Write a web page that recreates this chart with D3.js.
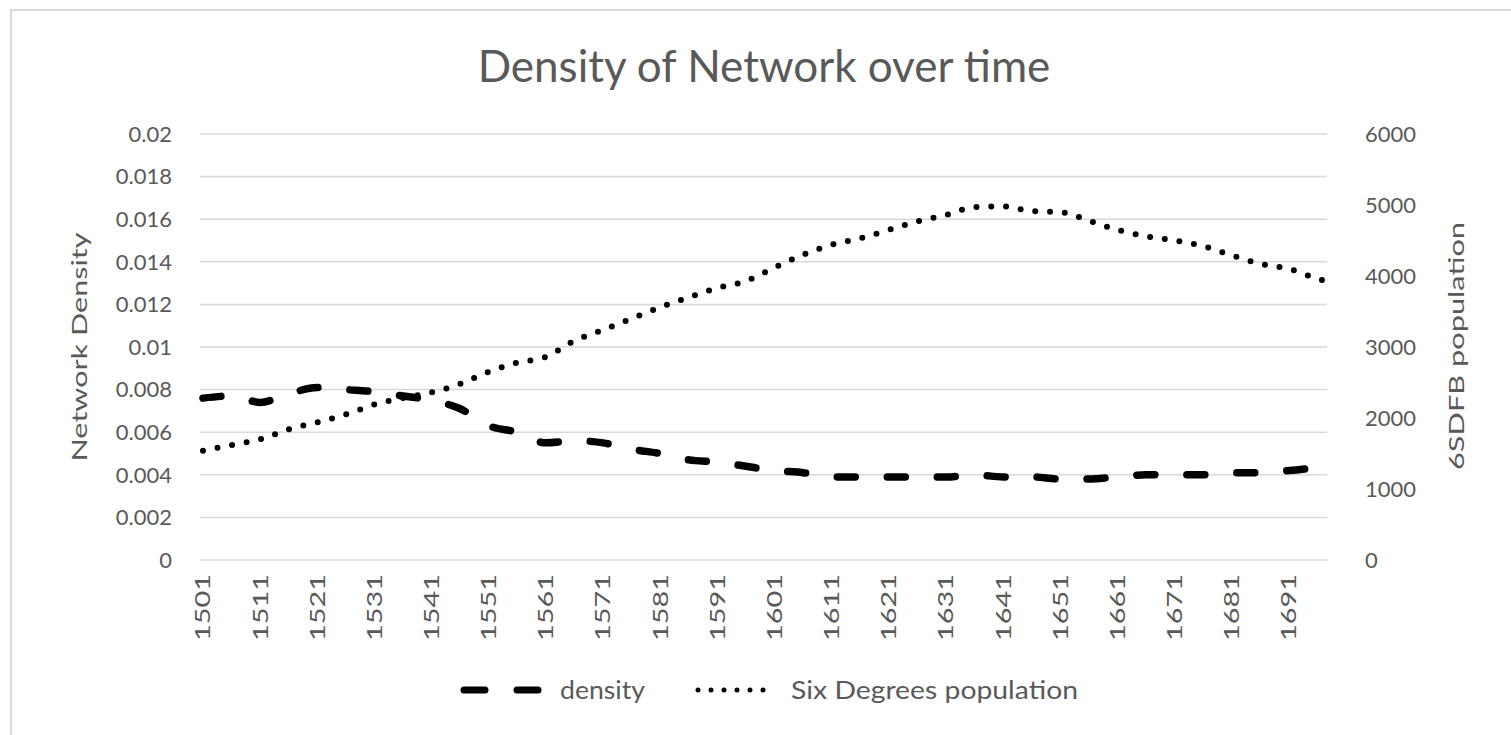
<!DOCTYPE html>
<html lang="en">
<head>
<meta charset="utf-8">
<title>Density of Network over time</title>
<script src="https://d3js.org/d3.v7.min.js"></script>
<style>
  body { margin: 0; background: #fff; }
  text { font-family: Lato, "Open Sans", sans-serif; fill: #595959; }
</style>
</head>
<body>
<div id="chart"></div>
<script>
// data (every 5 years)
var years = [1501, 1506, 1511, 1516, 1521, 1526, 1531, 1536, 1541, 1546,
  1551, 1556, 1561, 1566, 1571, 1576, 1581, 1586, 1591, 1596,
  1601, 1606, 1611, 1616, 1621, 1626, 1631, 1636, 1641, 1646,
  1651, 1656, 1661, 1666, 1671, 1676, 1681, 1686, 1691, 1696, 1698];
var density = [0.0076, 0.0077, 0.0074, 0.0078, 0.0081, 0.0080, 0.0079, 0.0077, 0.0075, 0.0071,
  0.0063, 0.0060, 0.0055, 0.0056, 0.0055, 0.0052, 0.0050, 0.0047, 0.0046, 0.0044,
  0.0042, 0.0041, 0.0039, 0.0039, 0.0039, 0.0039, 0.0039, 0.0040, 0.0039, 0.0039,
  0.0038, 0.0038, 0.0039, 0.0040, 0.0040, 0.0040, 0.0041, 0.0041, 0.0042, 0.0043, 0.0043];
var population = [1540, 1620, 1700, 1840, 1940, 2050, 2190, 2280, 2360, 2480,
  2650, 2780, 2860, 3090, 3240, 3400, 3560, 3700, 3830, 3930,
  4120, 4300, 4440, 4530, 4650, 4770, 4860, 4970, 4980, 4915,
  4900, 4780, 4650, 4560, 4500, 4420, 4290, 4170, 4100, 3960, 3920];
var yearTicks = [1501, 1511, 1521, 1531, 1541, 1551, 1561, 1571, 1581, 1591,
  1601, 1611, 1621, 1631, 1641, 1651, 1661, 1671, 1681, 1691];
var densityTicks = [0, 0.002, 0.004, 0.006, 0.008, 0.01, 0.012, 0.014, 0.016, 0.018, 0.02];
var popTicks = [0, 1000, 2000, 3000, 4000, 5000, 6000];

var W = 1511, H = 735;
var plotL = 200, plotR = 1327, plotT = 134, plotB = 560;

var svg = d3.select("#chart").append("svg")
  .attr("width", W).attr("height", H);

// outer chart frame
svg.append("rect")
  .attr("x", 11).attr("y", 10)
  .attr("width", W).attr("height", H)
  .attr("fill", "none").attr("stroke", "#d9d9d9").attr("stroke-width", 2);

var x = d3.scaleLinear().domain([1501, 1698]).range([203, 1329]);
var yL = d3.scaleLinear().domain([0, 0.02]).range([plotB, plotT]);
var yR = d3.scaleLinear().domain([0, 6000]).range([plotB, plotT]);

// gridlines
svg.append("g").selectAll("line")
  .data(densityTicks)
  .enter().append("line")
    .attr("x1", plotL).attr("x2", plotR)
    .attr("y1", function(d) { return yL(d); })
    .attr("y2", function(d) { return yL(d); })
    .attr("stroke", "#d9d9d9").attr("stroke-width", 1.5);

// left axis labels
svg.append("g").selectAll("text")
  .data(densityTicks)
  .enter().append("text")
    .attr("x", 172).attr("y", function(d) { return yL(d); })
    .attr("dy", "0.35em")
    .attr("text-anchor", "end")
    .style("font-size", "22px")
    .text(function(d) { return d; });

// right axis labels
svg.append("g").selectAll("text")
  .data(popTicks)
  .enter().append("text")
    .attr("x", 1365).attr("y", function(d) { return yR(d); })
    .attr("dy", "0.35em")
    .attr("text-anchor", "start")
    .style("font-size", "22px")
    .text(function(d) { return d; });

// x labels, rotated (the picture stretches them along the text)
svg.append("g").selectAll("text")
  .data(yearTicks)
  .enter().append("text")
    .attr("transform", function(d) { return "translate(" + x(d) + ",574) rotate(-90)"; })
    .attr("dy", "0.35em")
    .attr("text-anchor", "end")
    .attr("textLength", 67)
    .attr("lengthAdjust", "spacingAndGlyphs")
    .style("font-size", "21px")
    .text(function(d) { return d; });

// axis titles
svg.append("text")
  .attr("transform", "translate(79,347) rotate(-90)")
  .attr("dy", "0.35em")
  .attr("text-anchor", "middle")
  .attr("textLength", 229)
  .attr("lengthAdjust", "spacingAndGlyphs")
  .style("font-size", "22px")
  .text("Network Density");

svg.append("text")
  .attr("transform", "translate(1456,346) rotate(-90)")
  .attr("dy", "0.35em")
  .attr("text-anchor", "middle")
  .attr("textLength", 248)
  .attr("lengthAdjust", "spacingAndGlyphs")
  .style("font-size", "22px")
  .text("6SDFB population");

// title
svg.append("text")
  .attr("x", 764).attr("y", 82)
  .attr("text-anchor", "middle")
  .style("font-size", "44px")
  .text("Density of Network over time");

// lines
var densLine = d3.line()
  .x(function(d, i) { return x(years[i]); })
  .y(function(d) { return yL(d); })
  .curve(d3.curveMonotoneX);

var popLine = d3.line()
  .x(function(d, i) { return x(years[i]); })
  .y(function(d) { return yR(d); })
  .curve(d3.curveMonotoneX);

svg.append("path")
  .datum(population)
  .attr("d", popLine)
  .attr("fill", "none")
  .attr("stroke", "#000")
  .attr("stroke-width", 6)
  .attr("stroke-linecap", "round")
  .attr("stroke-dasharray", "0,14.8");

svg.append("path")
  .datum(density)
  .attr("d", densLine)
  .attr("fill", "none")
  .attr("stroke", "#000")
  .attr("stroke-width", 7.5)
  .attr("stroke-linecap", "round")
  .attr("stroke-dasharray", "18,32");

// legend
var lg = svg.append("g");
lg.append("line")
  .attr("x1", 464).attr("x2", 540).attr("y1", 690).attr("y2", 690)
  .attr("stroke", "#000").attr("stroke-width", 7)
  .attr("stroke-linecap", "round")
  .attr("stroke-dasharray", "21,32");
lg.append("text")
  .attr("x", 560).attr("y", 690).attr("dy", "0.35em")
  .attr("textLength", 85)
  .attr("lengthAdjust", "spacingAndGlyphs")
  .style("font-size", "25px")
  .text("density");
lg.append("line")
  .attr("x1", 698).attr("x2", 776).attr("y1", 690).attr("y2", 690)
  .attr("stroke", "#000").attr("stroke-width", 5)
  .attr("stroke-linecap", "round")
  .attr("stroke-dasharray", "0,13");
lg.append("text")
  .attr("x", 791).attr("y", 690).attr("dy", "0.35em")
  .attr("textLength", 287)
  .attr("lengthAdjust", "spacingAndGlyphs")
  .style("font-size", "25px")
  .text("Six Degrees population");
</script>
</body>
</html>
